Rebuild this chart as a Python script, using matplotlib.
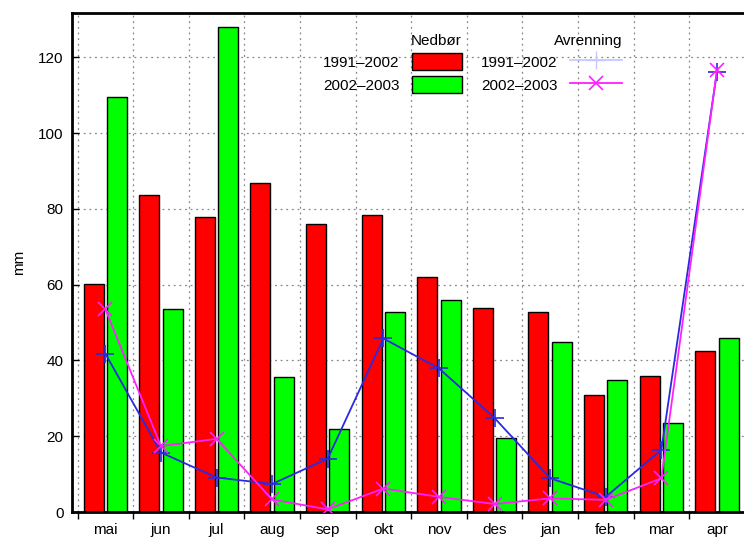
import numpy as np
import matplotlib
matplotlib.use('Agg')
import matplotlib.pyplot as plt
from matplotlib.patches import Patch
from matplotlib.lines import Line2D

plt.rcParams['font.family'] = ['Liberation Sans', 'DejaVu Sans']
plt.rcParams['font.size'] = 11

months = ['mai', 'jun', 'jul', 'aug', 'sep', 'okt', 'nov', 'des',
          'jan', 'feb', 'mar', 'apr']

# Nedbør (precipitation), mm
nedbor_9102 = [60.3, 83.6, 77.8, 86.8, 76.0, 78.4, 61.9, 53.8, 52.7, 30.9, 35.8, 42.6]
nedbor_0203 = [109.6, 53.7, 127.9, 35.6, 22.0, 52.9, 55.9, 19.5, 44.9, 34.9, 23.6, 45.9]

# Avrenning (runoff), mm
avr_9102 = [41.8, 15.7, 9.1, 7.4, 14.1, 45.8, 37.9, 24.8, 8.9, 4.0, 16.4, 116.2]
avr_0203 = [53.5, 17.4, 19.3, 3.3, 0.7, 6.2, 4.0, 2.1, 3.6, 3.2, 8.9, 116.6]

red = '#ff0000'
green = '#00ff00'
blue = '#2a2ae0'
pink = '#ff20ff'

fig = plt.figure(figsize=(7.44, 5.39), dpi=100)
ax = fig.add_axes([72/744, 1 - 512/539, 12.2*55.6/744, (512 - 13)/539])

x = np.arange(len(months))
w = 0.36
ax.bar(x - 0.21, nedbor_9102, w, color=red, edgecolor='black', linewidth=1, zorder=2)
ax.bar(x + 0.21, nedbor_0203, w, color=green, edgecolor='black', linewidth=1, zorder=2)
ax.plot(x, avr_9102, color=blue, marker='+', markersize=13, markeredgewidth=1.2,
        linewidth=1.3, zorder=3)
ax.plot(x, avr_0203, color=pink, marker='x', markersize=10, markeredgewidth=1.2,
        linewidth=1.3, zorder=4)

ax.set_xlim(-0.6, 11.6)
ax.set_ylim(0, 131.7)
ax.set_yticks(range(0, 121, 20))
ax.set_xticks(np.arange(-0.5, 11.6, 1.0))
ax.set_xticklabels([])
ax.set_xticks(x, minor=True)
ax.set_xticklabels(months, minor=True)
ax.tick_params(axis='x', which='major', direction='out', length=5, width=1)
ax.tick_params(axis='x', which='minor', length=0, pad=8)
ax.tick_params(axis='y', direction='in', length=5, width=1, pad=6)
ax.grid(True, which='major', color='#888888', linestyle=(0, (1.5, 3)), linewidth=0.9,
        zorder=0)
ax.set_axisbelow(True)
for s in ax.spines.values():
    s.set_linewidth(2)
ax.set_ylabel('mm', labelpad=9)

leg_kw = dict(frameon=False, markerfirst=False, alignment='right', borderpad=0,
              handletextpad=0.8, labelspacing=0.35, borderaxespad=0,
              bbox_transform=fig.transFigure, loc='upper right')
h1 = [Patch(facecolor=red, edgecolor='black', linewidth=1),
      Patch(facecolor=green, edgecolor='black', linewidth=1)]
leg1 = ax.legend(h1, ['1991\u20132002', '2002\u20132003'], title='Nedbør',
                 handlelength=3.3, handleheight=1.35,
                 bbox_to_anchor=(462/744, 1 - 34/539), **leg_kw)
ax.add_artist(leg1)
h2 = [Line2D([], [], color='#c8c8ff', marker='+', markersize=13, linewidth=1.3),
      Line2D([], [], color=pink, marker='x', markersize=10, markeredgewidth=1.2,
             linewidth=1.3)]
ax.legend(h2, ['1991\u20132002', '2002\u20132003'], title='Avrenning',
          handlelength=3.4, handleheight=1.35,
          bbox_to_anchor=(622/744, 1 - 34/539), **leg_kw)

fig.savefig('out.png', dpi=100)
